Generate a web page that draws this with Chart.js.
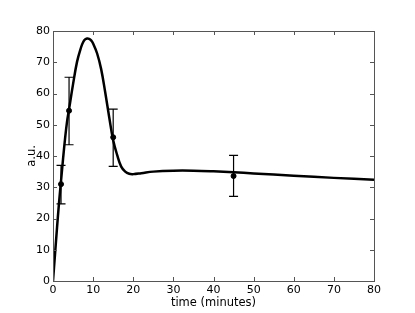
<!DOCTYPE html>
<html>
<head>
<meta charset="utf-8">
<script src="https://cdn.jsdelivr.net/npm/chart.js@4.4.0/dist/chart.umd.min.js"></script>
<style>
html,body{margin:0;padding:0;background:#fff;}
canvas{display:block;}
</style>
</head>
<body>
<canvas id="c" width="415" height="313"></canvas>
<script>
// Fitted curve
const curveX = [0,0.5,1,1.5,2,2.5,3,3.5,4,5,6,7,7.5,8,8.5,9,9.5,10,11,12,13,14,15,16,17,18,19,20,22,25,30,35,40,45,50,60,70,80];
const curveY = [0,8.5,17,25,32,39,45.5,51,55,63,70.2,74.8,76.4,77.3,77.6,77.5,77,76,72.8,67.8,60.5,52.5,45,40.3,36.6,35,34.3,34.2,34.5,35,35.3,35.3,35.1,34.8,34.4,33.7,33,32.4];
// Measured points with error bars
const pointX = [2, 4, 15, 45];
const pointY = [31, 54.5, 46, 33.6];
const errLow = [24.7, 43.6, 36.7, 27.1];
const errHigh = [37, 65.2, 55, 40.2];
// Axes
const xTicks = [0,10,20,30,40,50,60,70,80];
const yTicks = [0,10,20,30,40,50,60,70,80];
const xTitle = 'time (minutes)';
const yTitle = 'a.u.';

const FONT = {family: "'DejaVu Sans', sans-serif", size: 11};
const TFONT = {family: "'DejaVu Sans', sans-serif", size: 11.5};

const framePlugin = {
  id: 'frame',
  afterDatasetsDraw(chart) {
    const {ctx, chartArea: a, scales: {x, y}} = chart;
    ctx.save();
    // error bars
    ctx.strokeStyle = '#000';
    ctx.lineWidth = 1.2;
    pointX.forEach((px, i) => {
      const X = x.getPixelForValue(px);
      const Y1 = y.getPixelForValue(errLow[i]);
      const Y2 = y.getPixelForValue(errHigh[i]);
      ctx.beginPath();
      ctx.moveTo(X, Y1); ctx.lineTo(X, Y2);
      ctx.moveTo(X - 4.5, Y1); ctx.lineTo(X + 4.5, Y1);
      ctx.moveTo(X - 4.5, Y2); ctx.lineTo(X + 4.5, Y2);
      ctx.stroke();
    });
    // frame
    ctx.strokeStyle = '#555';
    ctx.lineWidth = 1;
    ctx.strokeRect(Math.round(a.left) + 0.5, Math.round(a.top) + 0.5, Math.round(a.right - a.left), Math.round(a.bottom - a.top));
    // inward ticks
    const L = 4;
    ctx.beginPath();
    xTicks.forEach(v => {
      const X = Math.round(x.getPixelForValue(v)) + 0.5;
      ctx.moveTo(X, a.bottom); ctx.lineTo(X, a.bottom - L);
      ctx.moveTo(X, a.top); ctx.lineTo(X, a.top + L);
    });
    yTicks.forEach(v => {
      const Y = Math.round(y.getPixelForValue(v)) + 0.5;
      ctx.moveTo(a.left, Y); ctx.lineTo(a.left + L, Y);
      ctx.moveTo(a.right, Y); ctx.lineTo(a.right - L, Y);
    });
    ctx.stroke();
    ctx.restore();
  }
};

new Chart(document.getElementById('c'), {
  type: 'line',
  data: {
    datasets: [
      {
        data: curveX.map((v, i) => ({x: v, y: curveY[i]})),
        borderColor: '#000',
        borderWidth: 2.5,
        pointRadius: 0,
        tension: 0.4,
        fill: false,
        order: 2
      },
      {
        type: 'scatter',
        data: pointX.map((v, i) => ({x: v, y: pointY[i]})),
        backgroundColor: '#000',
        borderColor: '#000',
        pointRadius: 2.5,
        showLine: false,
        order: 1
      }
    ]
  },
  options: {
    responsive: false,
    animation: false,
    devicePixelRatio: 1,
    layout: {padding: {left: 0, top: 31, right: 41, bottom: 0}},
    plugins: {legend: {display: false}, tooltip: {enabled: false}},
    scales: {
      x: {
        type: 'linear', min: 0, max: 80,
        afterFit(s) { s.height = 32; },
        afterBuildTicks(s) { s.ticks = xTicks.map(v => ({value: v})); },
        grid: {display: false, drawTicks: false},
        border: {display: false},
        ticks: {color: '#000', font: FONT, padding: 3, maxRotation: 0, autoSkip: false},
        title: {display: true, text: xTitle, color: '#000', font: TFONT, padding: {top: 0, bottom: 3}}
      },
      y: {
        type: 'linear', min: 0, max: 80,
        afterFit(s) { s.width = 53; },
        afterBuildTicks(s) { s.ticks = yTicks.map(v => ({value: v})); },
        grid: {display: false, drawTicks: false},
        border: {display: false},
        ticks: {color: '#000', font: FONT, padding: 3, autoSkip: false},
        title: {display: true, text: yTitle, color: '#000', font: TFONT, padding: {top: 25, bottom: 0}}
      }
    }
  },
  plugins: [framePlugin]
});
</script>
</body>
</html>
